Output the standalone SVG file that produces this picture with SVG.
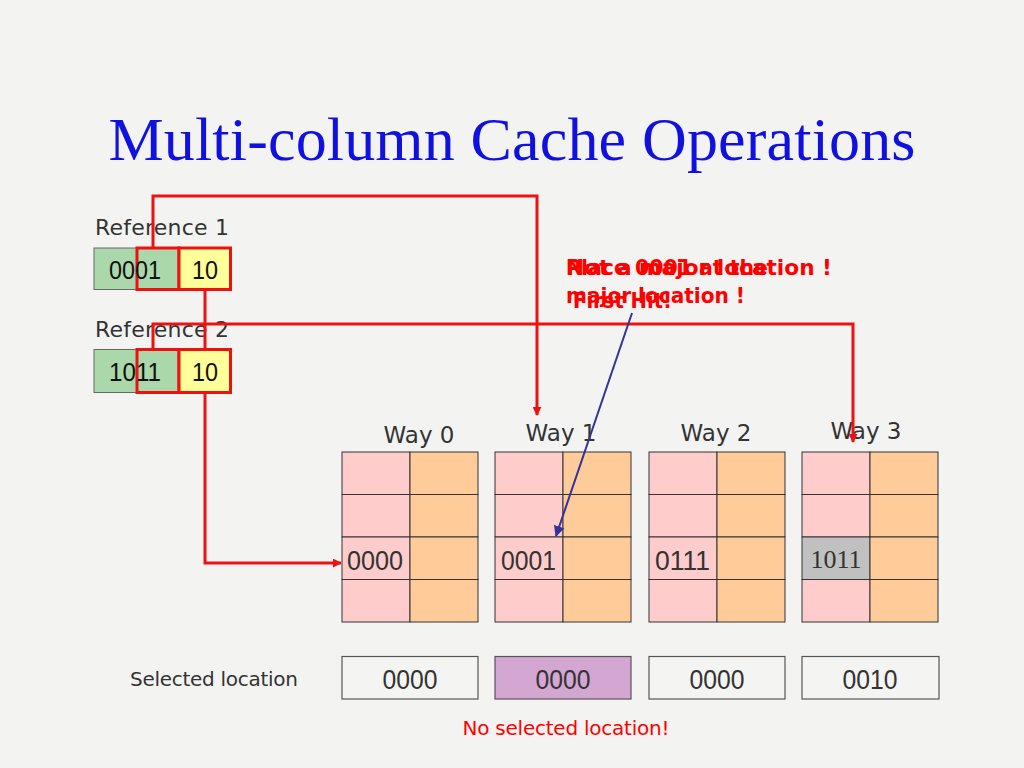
<svg xmlns="http://www.w3.org/2000/svg" width="1024" height="768" viewBox="0 0 1024 768">
<style>
.lbl{font-family:"DejaVu Sans","Liberation Sans",sans-serif;fill:#333333}
.num{font-family:"Liberation Sans","DejaVu Sans",sans-serif;fill:#111111;font-size:26px}
.cn{font-family:"Liberation Sans","DejaVu Sans",sans-serif;fill:#333333;font-size:27px}
.pk{fill:#ffcccc;stroke:#333;stroke-width:1}
.og{fill:#ffcc99;stroke:#333;stroke-width:1}
.sel{fill:#f4f4f2;stroke:#555;stroke-width:1.2}
.red{fill:none;stroke:#ee1111;stroke-width:3}
.redbox{stroke:#ee1111;stroke-width:3}
.note{font-family:"DejaVu Sans","Liberation Sans",sans-serif;font-weight:bold;font-size:21px;fill:#ff0000}
</style>
<defs>
<marker id="ar" viewBox="0 0 10 10" refX="9" refY="5" markerWidth="9" markerHeight="9" markerUnits="userSpaceOnUse" orient="auto"><path d="M0,0 L10,5 L0,10 z" fill="#ee1111"/></marker>
<marker id="ab" viewBox="0 0 10 10" refX="9" refY="5" markerWidth="11" markerHeight="11" markerUnits="userSpaceOnUse" orient="auto"><path d="M0,0 L10,5 L0,10 z" fill="#333399"/></marker>
</defs>
<rect x="0" y="0" width="1024" height="768" fill="#f3f4f2"/>
<text x="512" y="160" text-anchor="middle" font-family="'Liberation Serif','Times New Roman',serif" font-size="62" fill="#1010e0" textLength="807">Multi-column Cache Operations</text>

<g id="ref1">
<text class="lbl" x="95" y="235" font-size="22" textLength="134">Reference 1</text>
<rect x="94" y="248" width="85" height="41.5" fill="#aad8aa" stroke="#666" stroke-width="1"/>
<rect x="137" y="248" width="42" height="41.5" fill="none" class="redbox"/>
<rect x="179" y="248" width="51.5" height="41.5" fill="#ffff99" class="redbox"/>
<text class="num" x="109" y="279" textLength="52" lengthAdjust="spacingAndGlyphs">0001</text>
<text class="num" x="192" y="279" textLength="26" lengthAdjust="spacingAndGlyphs">10</text>
</g>
<g id="ref2">
<text class="lbl" x="95" y="337" font-size="22" textLength="134">Reference 2</text>
<rect x="94" y="349.5" width="85" height="43" fill="#aad8aa" stroke="#666" stroke-width="1"/>
<rect x="137" y="349.5" width="42" height="43" fill="none" class="redbox"/>
<rect x="179" y="349.5" width="51.5" height="43" fill="#ffff99" class="redbox"/>
<text class="num" x="109" y="381" textLength="52" lengthAdjust="spacingAndGlyphs">1011</text>
<text class="num" x="192" y="381" textLength="26" lengthAdjust="spacingAndGlyphs">10</text>
</g>

<g id="way0">
<text class="lbl" x="419" y="443" font-size="23" text-anchor="middle">Way 0</text>
<rect class="pk" x="342" y="452" width="68" height="42.5"/><rect class="og" x="410" y="452" width="68" height="42.5"/>
<rect class="pk" x="342" y="494.5" width="68" height="42.5"/><rect class="og" x="410" y="494.5" width="68" height="42.5"/>
<rect class="pk" x="342" y="537" width="68" height="42.5"/><rect class="og" x="410" y="537" width="68" height="42.5"/>
<rect class="pk" x="342" y="579.5" width="68" height="42.5"/><rect class="og" x="410" y="579.5" width="68" height="42.5"/>
<text class="cn" x="347" y="570" textLength="56" lengthAdjust="spacingAndGlyphs">0000</text>
</g>
<g id="way1">
<text class="lbl" x="561" y="441" font-size="23" text-anchor="middle">Way 1</text>
<rect class="pk" x="495" y="452" width="68" height="42.5"/><rect class="og" x="563" y="452" width="68" height="42.5"/>
<rect class="pk" x="495" y="494.5" width="68" height="42.5"/><rect class="og" x="563" y="494.5" width="68" height="42.5"/>
<rect class="pk" x="495" y="537" width="68" height="42.5"/><rect class="og" x="563" y="537" width="68" height="42.5"/>
<rect class="pk" x="495" y="579.5" width="68" height="42.5"/><rect class="og" x="563" y="579.5" width="68" height="42.5"/>
<text class="cn" x="501" y="570" textLength="55" lengthAdjust="spacingAndGlyphs">0001</text>
</g>
<g id="way2">
<text class="lbl" x="716" y="441" font-size="23" text-anchor="middle">Way 2</text>
<rect class="pk" x="649" y="452" width="68" height="42.5"/><rect class="og" x="717" y="452" width="68" height="42.5"/>
<rect class="pk" x="649" y="494.5" width="68" height="42.5"/><rect class="og" x="717" y="494.5" width="68" height="42.5"/>
<rect class="pk" x="649" y="537" width="68" height="42.5"/><rect class="og" x="717" y="537" width="68" height="42.5"/>
<rect class="pk" x="649" y="579.5" width="68" height="42.5"/><rect class="og" x="717" y="579.5" width="68" height="42.5"/>
<text class="cn" x="655" y="570" textLength="55" lengthAdjust="spacingAndGlyphs">0111</text>
</g>
<g id="way3">
<text class="lbl" x="866" y="439" font-size="23" text-anchor="middle">Way 3</text>
<rect class="pk" x="802" y="452" width="68" height="42.5"/><rect class="og" x="870" y="452" width="68" height="42.5"/>
<rect class="pk" x="802" y="494.5" width="68" height="42.5"/><rect class="og" x="870" y="494.5" width="68" height="42.5"/>
<rect x="802" y="537" width="68" height="42.5" fill="#c0c0c0" stroke="#333" stroke-width="1"/><rect class="og" x="870" y="537" width="68" height="42.5"/>
<rect class="pk" x="802" y="579.5" width="68" height="42.5"/><rect class="og" x="870" y="579.5" width="68" height="42.5"/>
<text x="836" y="568" text-anchor="middle" font-family="'Liberation Serif','Times New Roman',serif" font-size="26" fill="#333">1011</text>
</g>

<g id="selected">
<text class="lbl" x="130" y="686" font-size="20" textLength="168">Selected location</text>
<rect class="sel" x="342" y="656.5" width="136" height="42.5"/>
<rect x="495" y="656.5" width="136" height="42.5" fill="#d4a6d2" stroke="#555" stroke-width="1.2"/>
<rect class="sel" x="649" y="656.5" width="136" height="42.5"/>
<rect class="sel" x="802" y="656.5" width="137" height="42.5"/>
<text class="cn" x="410" y="689" text-anchor="middle" textLength="55" lengthAdjust="spacingAndGlyphs">0000</text>
<text class="cn" x="563" y="689" text-anchor="middle" textLength="55" lengthAdjust="spacingAndGlyphs">0000</text>
<text class="cn" x="717" y="689" text-anchor="middle" textLength="55" lengthAdjust="spacingAndGlyphs">0000</text>
<text class="cn" x="870" y="689" text-anchor="middle" textLength="55" lengthAdjust="spacingAndGlyphs">0010</text>
<text x="566" y="735" text-anchor="middle" font-family="'DejaVu Sans','Liberation Sans',sans-serif" font-size="20" fill="#ff0000" textLength="207">No selected location!</text>
</g>

<g id="notes">
<text class="note" x="566" y="275" textLength="202" lengthAdjust="spacingAndGlyphs">Place 0001 at the</text>
<text class="note" x="566" y="303" textLength="179" lengthAdjust="spacingAndGlyphs">major location !</text>
<text class="note" x="566" y="275" textLength="266" lengthAdjust="spacingAndGlyphs">Not a major location !</text>
<text class="note" x="573" y="308" textLength="99" lengthAdjust="spacingAndGlyphs">First Hit!</text>
</g>

<g id="connectors">
<path class="red" d="M153,248 V196 H537 V415" marker-end="url(#ar)"/>
<path class="red" d="M153,349 V324 H853 V442" marker-end="url(#ar)"/>
<path class="red" d="M205,290 V349"/>
<path class="red" d="M205,393 V563 H341" marker-end="url(#ar)"/>
<path d="M632,313 L556,536" fill="none" stroke="#333399" stroke-width="2" marker-end="url(#ab)"/>
</g>
</svg>
